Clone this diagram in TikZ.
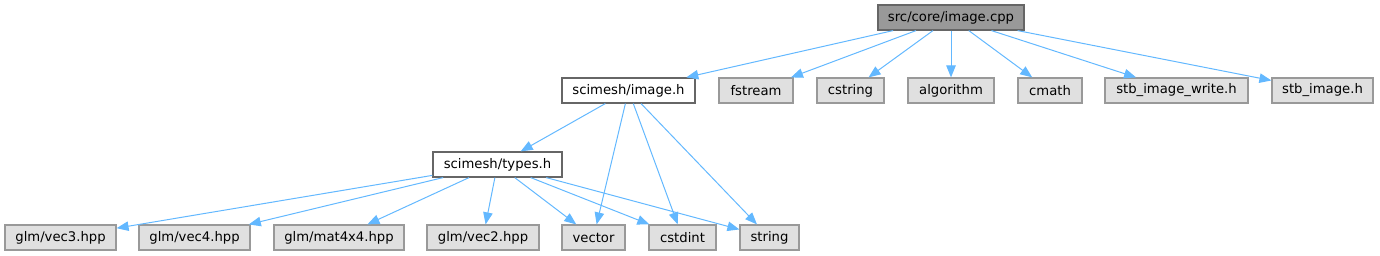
\documentclass[tikz,border=0pt]{standalone}
\usepackage{fontspec}
\setmainfont{DejaVu Sans}
\usetikzlibrary{arrows.meta}
\definecolor{Edge}{HTML}{63B8FF}
\definecolor{Root}{HTML}{999999}
\definecolor{Ext}{HTML}{E0E0E0}

\begin{document}
\begin{tikzpicture}[x=1pt,y=-1pt,
  box/.style={rectangle,draw=black!60,line width=1.2pt,minimum height=25pt,inner sep=0pt,
    font=\fontsize{13.2}{16}\selectfont},
  root/.style={box,fill=Root},
  own/.style={box,fill=white},
  ext/.style={box,draw=Root,fill=Ext},
  dep/.style={draw=Edge,line width=1pt,-{Triangle[length=12pt,width=9.5pt]}}]
\useasboundingbox (0,0) rectangle (1380,256);
% top row
\node[root,minimum width=146pt] (cpp) at (951,17.5) {src/core/image.cpp};
% second row
\node[own,minimum width=133pt] (imageh) at (628.5,90.5) {scimesh/image.h};
\node[ext,minimum width=74pt] (fstream) at (756,90.5) {fstream};
\node[ext,minimum width=67pt] (cstring) at (850.5,90.5) {cstring};
\node[ext,minimum width=86pt] (algorithm) at (951,90.5) {algorithm};
\node[ext,minimum width=64pt] (cmath) at (1050,90.5) {cmath};
\node[ext,minimum width=143pt] (stbw) at (1176.5,90.5) {stb\_image\_write.h};
\node[ext,minimum width=101pt] (stb) at (1322.5,90.5) {stb\_image.h};
% third row
\node[own,minimum width=129pt] (typesh) at (497.5,164.5) {scimesh/types.h};
% bottom row
\node[ext,minimum width=111pt] (vecthree) at (60.5,237.5) {glm/vec3.hpp};
\node[ext,minimum width=111pt] (vecfour) at (194.5,237.5) {glm/vec4.hpp};
\node[ext,minimum width=130pt] (mat) at (339,237.5) {glm/mat4x4.hpp};
\node[ext,minimum width=112pt] (vectwo) at (483,237.5) {glm/vec2.hpp};
\node[ext,minimum width=63pt] (vector) at (593.5,237.5) {vector};
\node[ext,minimum width=67pt] (cstdint) at (682.5,237.5) {cstdint};
\node[ext,minimum width=59pt] (string) at (769.5,237.5) {string};
% includes
\foreach \t in {imageh,fstream,cstring,algorithm,cmath,stbw,stb}
  \draw[dep] (cpp) -- (\t);
\foreach \t in {typesh,vector,cstdint,string}
  \draw[dep] (imageh) -- (\t);
\foreach \t in {vecthree,vecfour,mat,vectwo,vector,cstdint,string}
  \draw[dep] (typesh) -- (\t);
\end{tikzpicture}
\end{document}
